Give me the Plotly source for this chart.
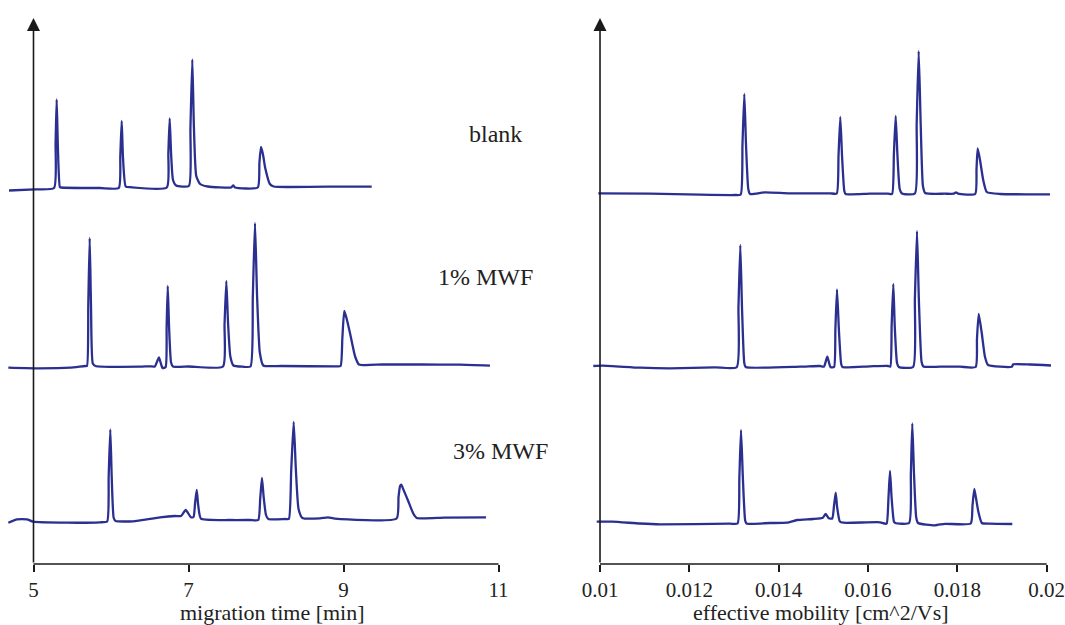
import plotly.graph_objects as go

# ---- migration-time electropherograms (min, detector signal a.u.) ----
blank_t = [4.684, 5.019, 5.265,
           5.285, 5.299, 5.315, 5.34, 5.355, 5.86,
           6.10, 6.12, 6.138, 6.155, 6.19, 6.25,
           6.72, 6.74, 6.757, 6.775, 6.80, 6.84,
           7.005, 7.025, 7.049, 7.07, 7.10, 7.15, 7.25,
           7.55, 7.578, 7.60,
           7.893, 7.915, 7.935, 7.96, 7.99, 8.05, 8.10,
           8.30, 8.80, 9.364]
blank_s = [-2.5, -1.3, 0,
           45, 88.5, 40, 1, 0.5, 0,
           0, 32, 67, 30, 1.5, 0.8,
           0.5, 35, 69.5, 35, 8, 2.5,
           2, 60, 128.5, 60, 12, 4, 1.5,
           0.5, 2.5, 0.5,
           0.5, 25, 41, 34, 20, 4, 1.5,
           1, 1.3, 1.3]

mwf1_t = [4.675, 5.019, 5.471, 5.665,
          5.69, 5.707, 5.725, 5.742, 5.765, 5.80,
          6.374, 6.503,
          6.565, 6.60, 6.619, 6.64, 6.665,
          6.705, 6.718, 6.732, 6.75, 6.775, 6.80,
          7.00,
          7.445, 7.465, 7.488, 7.51, 7.54, 7.58,
          7.70,
          7.80, 7.83, 7.858, 7.885, 7.92, 7.965,
          8.20, 8.90,
          8.962, 8.985, 9.01, 9.04, 9.085, 9.15, 9.20,
          9.50, 10.0, 10.5, 10.89]
mwf1_s = [-1.2, -1.8, -1.2, 0.5,
          0.5, 62, 128.5, 60, 3, 0.5,
          -0.2, 0.2,
          0, 6, 9, 4, -1.5,
          -0.5, 40, 80.5, 38, 4, 0,
          0,
          0, 42, 85.5, 44, 10, 1,
          -0.2,
          0, 70, 143.5, 70, 14, 1,
          0.5, 0.2,
          0.5, 28, 55.5, 48, 33, 10, 2,
          2, 2, 1.8, 0.8]

mwf3_t = [4.675, 4.787, 4.916, 4.994, 5.432, 5.858,
          5.95, 5.97, 5.991, 6.01, 6.035, 6.06,
          6.284, 6.632, 6.826, 6.903,
          6.964, 7.032,
          7.065, 7.085, 7.106, 7.125, 7.161,
          7.535, 7.794,
          7.90, 7.925, 7.948, 7.97, 8.00, 8.03,
          8.251,
          8.295, 8.325, 8.357, 8.385, 8.42, 8.47,
          8.697, 8.80, 8.89,
          9.685, 9.71, 9.73, 9.745, 9.77, 9.835, 9.90, 9.945,
          10.3, 10.839]
mwf3_s = [-1.7, 1.7, 1.7, -0.7, -1.7, -1.3,
          -0.5, 45, 91.5, 42, 3, 0,
          -0.3, 3.7, 5, 5,
          11, 3.7,
          4, 18, 31, 16, 2.3,
          1, 1,
          1, 22, 43, 24, 6, 2,
          2,
          2, 50, 99, 52, 12, 3,
          2.7, 3.7, 2.3,
          2.5, 24, 35, 36.3, 32, 20, 7.5, 3,
          3.3, 3.7]

# ---- effective-mobility electropherograms (cm^2/Vs, detector signal a.u.) ----
blank_m = [0.009962, 0.011119, 0.012239, 0.013022,
           0.01315, 0.01319, 0.013231, 0.01327, 0.01332, 0.01336,
           0.013694, 0.014254, 0.015149,
           0.0153, 0.01534, 0.01538, 0.01542, 0.01547, 0.0155,
           0.016045, 0.01645,
           0.01654, 0.01658, 0.01662, 0.01666, 0.01671, 0.01676,
           0.01705, 0.01709, 0.017135, 0.01718, 0.01723, 0.01728,
           0.017724, 0.01792, 0.01797, 0.01802,
           0.0184, 0.01843, 0.018456, 0.018508, 0.01858, 0.01866,
           0.018956, 0.019627, 0.020075]
blank_ms = [0.7, 0.3, -0.7, -1,
            -0.5, 50, 100, 48, 5, 0,
            1.7, 0.7, 0.7,
            0.5, 38, 77, 37, 3, 0,
            0.3, 0.3,
            0, 40, 78, 38, 5, 0.5,
            0.5, 70, 143, 70, 8, 1,
            0.3, 0.3, 1.7, 0.3,
            0, 25, 45.5, 34, 14, 2,
            0, -0.3, -0.3]

mwf1_m = [0.00985, 0.010067, 0.010896, 0.011567, 0.012575,
          0.01306, 0.0131, 0.013141, 0.01318, 0.01323, 0.01326,
          0.014478, 0.014925,
          0.015015, 0.015089, 0.01516,
          0.01524, 0.01527, 0.015306, 0.01535, 0.0154, 0.01543,
          0.016045, 0.016448,
          0.0165, 0.01653, 0.016567, 0.0166, 0.01665, 0.01669,
          0.01701, 0.01705, 0.017097, 0.01714, 0.0172, 0.01724,
          0.017612, 0.01806,
          0.01841, 0.01844, 0.018479, 0.01855, 0.01862, 0.01869,
          0.01922, 0.019253, 0.019627, 0.020097]
mwf1_ms = [1, 1.3, -0.7, -1.3, -0.3,
           -0.3, 60, 122, 58, 4, 0,
           0.3, 1,
           0.5, 10.3, 0,
           0, 38, 77.5, 36, 3, 0,
           0.7, 1,
           0.5, 42, 83, 40, 4, 0,
           0, 68, 136, 66, 5, 0.5,
           0.3, 0.3,
           0, 28, 53, 33, 10, 2,
           0.3, 2.7, 2.5, 1.5]

mwf3_m = [0.009926, 0.010269, 0.010896, 0.011343, 0.012911,
          0.01308, 0.01312, 0.013157, 0.0132, 0.01325, 0.01328,
          0.013806, 0.014187, 0.01441, 0.014769,
          0.01499, 0.015053, 0.01512,
          0.0152, 0.01524, 0.015277, 0.01531, 0.01537, 0.01545,
          0.016269, 0.01638,
          0.01642, 0.01646, 0.016493, 0.01653, 0.01658, 0.01661,
          0.01692, 0.01696, 0.016992, 0.01703, 0.01708, 0.01712,
          0.0175, 0.017724,
          0.0183, 0.01834, 0.01838, 0.01842, 0.01847, 0.01855,
          0.018732, 0.019231]
mwf3_ms = [1.8, 1.8, 0, -0.8, -0.2,
           0, 46, 93.5, 44, 3, 0,
           0.5, 0.8, 3.5, 4.5,
           5.8, 9.5, 5.2,
           5, 18, 30.8, 16, 2, 0.8,
           1.2, -0.2,
           0, 27, 52.5, 25, 2, 0.5,
           0.5, 50, 100, 50, 6, 0.5,
           -1.8, -0.3,
           0, 18, 34.5, 25, 12, 0.5,
           -0.2, -0.5]

sample_labels = ["blank", "1% MWF", "3% MWF"]
time_ticks = [5, 7, 9, 11]
time_tick_text = ["5", "7", "9", "11"]
mob_ticks = [0.010, 0.012, 0.014, 0.016, 0.018, 0.020]
mob_tick_text = ["0.01", "0.012", "0.014", "0.016", "0.018", "0.02"]

# vertical stacking of the three runs in each panel
left_offsets = [376, 197.5, 43]
right_offsets = [370, 197, 40.5]

W, H = 1065, 625
Y_TOP = 564            # plotting height in signal units
LINE = "#2b2f8f"
AX = "#1a1a1a"
FONT = "Liberation Serif"

y_bottom = 1 - 564 / H

fig = go.Figure()

left_runs = [(blank_t, blank_s), (mwf1_t, mwf1_s), (mwf3_t, mwf3_s)]
right_runs = [(blank_m, blank_ms), (mwf1_m, mwf1_ms), (mwf3_m, mwf3_ms)]

trace_line = dict(color=LINE, width=2.3, shape="spline", smoothing=0.5)

for (xs, ss), off, name in zip(left_runs, left_offsets, sample_labels):
    fig.add_trace(go.Scatter(x=xs, y=[off + s for s in ss], mode="lines",
                             line=trace_line, name=name,
                             xaxis="x", yaxis="y"))
for (xs, ss), off, name in zip(right_runs, right_offsets, sample_labels):
    fig.add_trace(go.Scatter(x=xs, y=[off + s for s in ss], mode="lines",
                             line=trace_line, name=name,
                             xaxis="x2", yaxis="y2"))

tick_style = dict(ticks="outside", ticklen=7, tickwidth=1.5, tickcolor=AX,
                  showline=False, showgrid=False, zeroline=False,
                  ticklabeloverflow="allow",
                  tickfont=dict(family=FONT, size=21, color="#222"),
                  fixedrange=True)

fig.update_layout(
    width=W, height=H,
    margin=dict(l=0, r=0, t=0, b=0),
    paper_bgcolor="white", plot_bgcolor="white",
    showlegend=False,
    xaxis=dict(domain=[0, 530 / W], range=[4.5677, 11.4065],
               tickvals=time_ticks, ticktext=time_tick_text, anchor="y",
               **tick_style),
    yaxis=dict(domain=[y_bottom, 1], range=[0, Y_TOP], visible=False,
               anchor="x"),
    xaxis2=dict(domain=[575 / W, 1], range=[0.00944, 0.020411],
                tickvals=mob_ticks, ticktext=mob_tick_text, anchor="y2",
                **tick_style),
    yaxis2=dict(domain=[y_bottom, 1], range=[0, Y_TOP], visible=False,
                anchor="x2"),
)

# horizontal axis lines spanning the labelled range only
fig.add_shape(type="line", xref="x", yref="paper", x0=time_ticks[0],
              x1=time_ticks[-1], y0=y_bottom, y1=y_bottom,
              line=dict(color=AX, width=1.6))
fig.add_shape(type="line", xref="x2", yref="paper", x0=mob_ticks[0],
              x1=mob_ticks[-1], y0=y_bottom, y1=y_bottom,
              line=dict(color=AX, width=1.6))

# vertical signal axes with arrow heads
arrow_len = 546
for xr, xv in (("x", time_ticks[0]), ("x2", mob_ticks[0])):
    fig.add_annotation(x=xv, xref=xr, y=y_bottom + arrow_len / H, yref="paper",
                       ax=0, ay=arrow_len, axref="pixel", ayref="pixel",
                       text="", showarrow=True, arrowhead=2, arrowsize=1.63,
                       arrowwidth=1.6, arrowcolor=AX, standoff=0,
                       startstandoff=0)

# sample labels
label_pos = [(10.96, 430), (10.83, 287), (11.02, 113)]
for (lx, ly), txt in zip(label_pos, sample_labels):
    fig.add_annotation(x=lx, y=ly, xref="x", yref="y", text=txt,
                       showarrow=False,
                       font=dict(family=FONT, size=24, color="#222"))

# axis titles
fig.add_annotation(x=8.09, xref="x", y=0, yref="paper", yanchor="bottom",
                   yshift=-2, text="migration time [min]", showarrow=False,
                   font=dict(family=FONT, size=22, color="#222"))
fig.add_annotation(x=0.01495, xref="x2", y=0, yref="paper", yanchor="bottom",
                   yshift=-2, text="effective mobility [cm^2/Vs]",
                   showarrow=False,
                   font=dict(family=FONT, size=22, color="#222"))

fig.write_html("out.html")
